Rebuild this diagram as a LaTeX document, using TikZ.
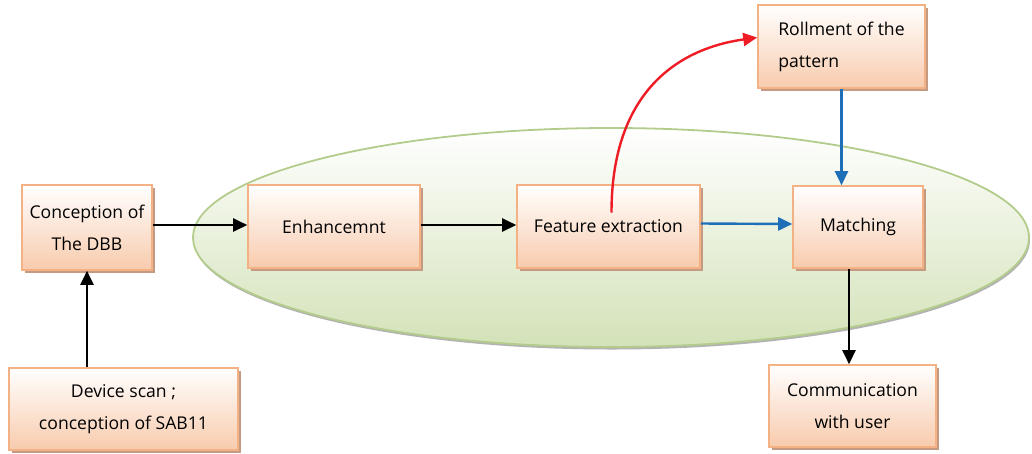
\documentclass[tikz,border=0pt]{standalone}
\usepackage{fontspec}
\setmainfont{Open Sans}
\usetikzlibrary{arrows.meta,shapes.geometric,shadows}
\definecolor{peachline}{HTML}{F4B183}
\definecolor{peachfill}{HTML}{F8CBAD}
\definecolor{boxshadow}{HTML}{C49A82}
\definecolor{greenline}{HTML}{B3CC8C}
\definecolor{greenfill}{HTML}{D3E2B8}
\definecolor{flowblue}{HTML}{1F6EB8}
\definecolor{flowred}{HTML}{EE1C25}
\tikzset{
  stepbox/.style={rectangle, draw=peachline, line width=1.6pt,
    shading=axis, top color=white, bottom color=peachfill,
    drop shadow={shadow xshift=3pt, shadow yshift=-3pt, fill=boxshadow, opacity=1},
    font=\fontsize{17.6}{32}\selectfont, align=center, inner sep=0pt},
  flow/.style={line width=2.4pt, -{Triangle[length=14pt,width=13pt]}},
}
\begin{document}
\begin{tikzpicture}[x=1pt,y=-1pt]
\useasboundingbox (0,0) rectangle (1032,453);
% processing stage
\node (stage) [ellipse, minimum width=836pt, minimum height=219pt,
  draw=greenline, line width=1.8pt, shading=axis, top color=white, bottom color=greenfill,
  drop shadow={shadow xshift=1pt, shadow yshift=-2.5pt, fill=gray!60, opacity=1}]
  at (611,237.5) {};
% blocks
\node (concept) [stepbox, minimum width=130pt, minimum height=85pt] at (87,227.5) {Conception of\\The DBB};
\node (enh) [stepbox, minimum width=172pt, minimum height=83pt] at (334,226.5) {Enhancemnt};
\node (feat) [stepbox, minimum width=183pt, minimum height=83pt] at (608.5,226.5) {Feature extraction};
\node (match) [stepbox, minimum width=130pt, minimum height=82pt] at (858,227) {Matching};
\node (roll) [stepbox, minimum width=167pt, minimum height=83pt, align=left] at (841.5,46.5) {Rollment of the\\pattern};
\node (device) [stepbox, minimum width=229pt, minimum height=82pt] at (123.5,409) {Device scan ;\\conception of SAB11};
\node (comm) [stepbox, minimum width=167pt, minimum height=82pt] at (852.5,406) {Communication\\with user};
% connectors
\draw[flow] ([yshift=1.5pt]concept.east |- enh.west) -- ([yshift=1.5pt]enh.west);
\draw[flow] ([yshift=1.5pt]enh.east) -- ([yshift=1.5pt]feat.west);
\draw[flow, flowblue] ([yshift=3pt]feat.east) -- ([yshift=3pt]match.west);
\draw[flow, flowblue] (roll.south) -- (roll.south |- match.north);
\draw[flow] ([xshift=-9pt]match.south) -- ([xshift=-9pt]match.south |- comm.north);
\draw[flow] (device.north -| concept) -- (concept.south);
\draw[flow, flowred] ([xshift=3pt,yshift=14pt]feat.center)
  .. controls +(0,-115) and +(-85,12) .. ([yshift=9pt]roll.west);
\end{tikzpicture}
\end{document}
